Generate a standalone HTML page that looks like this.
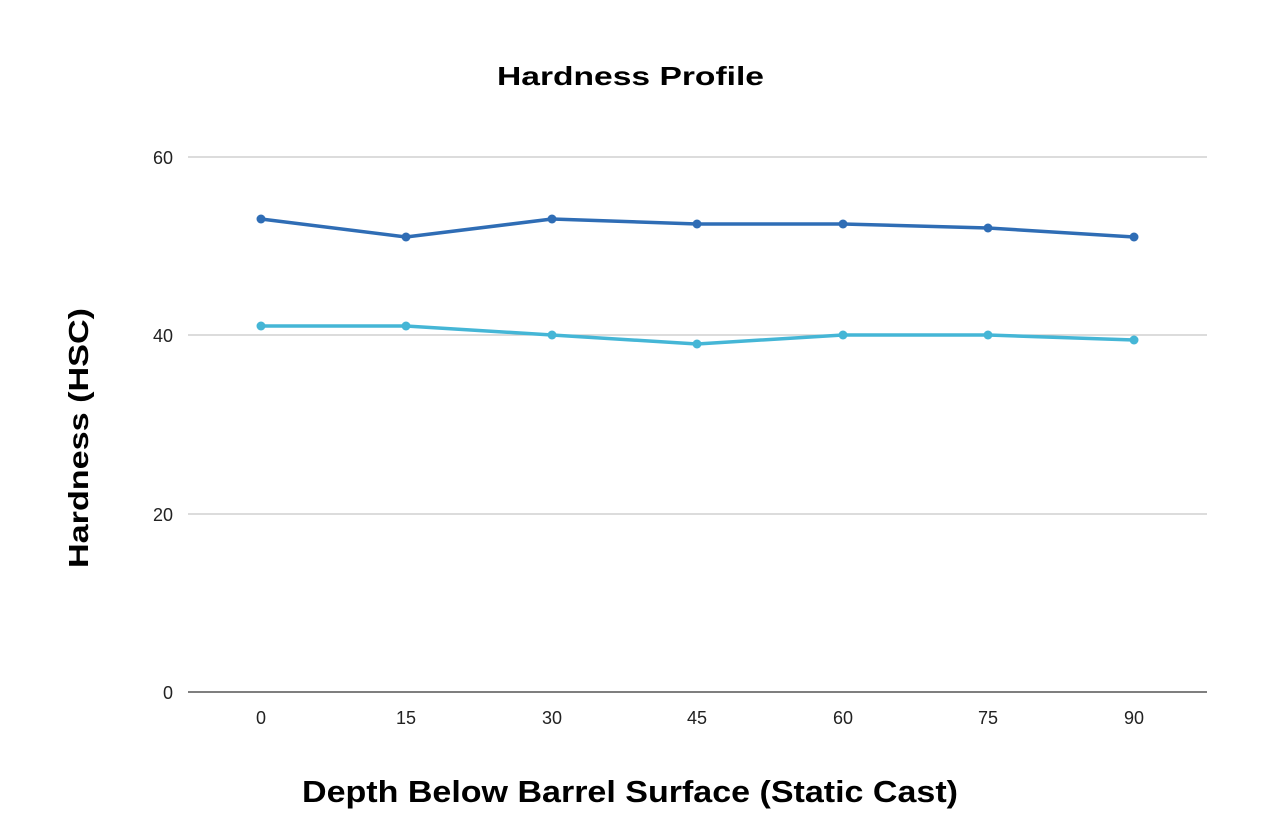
<!DOCTYPE html>
<html><head><meta charset="utf-8"><style>
html,body{margin:0;padding:0;background:#fff;}
svg{display:block;}
text{font-family:"Liberation Sans",sans-serif;}
</style></head><body>
<svg width="1288" height="824" viewBox="0 0 1288 824">
<rect width="1288" height="824" fill="#fff"/>
<text x="497" y="85" font-size="26" font-weight="bold" fill="#000" textLength="267" lengthAdjust="spacingAndGlyphs">Hardness Profile</text>
<g stroke="#c6c6c6" stroke-width="1.3">
<line x1="188" y1="157" x2="1207" y2="157"/>
<line x1="188" y1="335" x2="1207" y2="335"/>
<line x1="188" y1="514" x2="1207" y2="514"/>
</g>
<line x1="188" y1="692" x2="1207" y2="692" stroke="#333" stroke-width="1.3"/>
<g font-size="18" fill="#222" text-anchor="end">
<text x="173" y="164">60</text>
<text x="173" y="342">40</text>
<text x="173" y="521">20</text>
<text x="173" y="699">0</text>
</g>
<g font-size="18" fill="#222" text-anchor="middle">
<text x="261" y="724">0</text>
<text x="406" y="724">15</text>
<text x="552" y="724">30</text>
<text x="697" y="724">45</text>
<text x="843" y="724">60</text>
<text x="988" y="724">75</text>
<text x="1134" y="724">90</text>
</g>
<text x="302" y="802" font-size="31" font-weight="bold" fill="#000" textLength="656" lengthAdjust="spacingAndGlyphs">Depth Below Barrel Surface (Static Cast)</text>
<text transform="translate(88,568) rotate(-90)" font-size="28" font-weight="bold" fill="#000" textLength="260" lengthAdjust="spacingAndGlyphs">Hardness (HSC)</text>
<polyline fill="none" stroke="#2f6db5" stroke-width="3.5" stroke-linejoin="round" points="261,219 406,237 552,219 697,224 843,224 988,228 1134,237"/>
<g fill="#2f6db5">
<circle cx="261" cy="219" r="4.5"/><circle cx="406" cy="237" r="4.5"/><circle cx="552" cy="219" r="4.5"/><circle cx="697" cy="224" r="4.5"/><circle cx="843" cy="224" r="4.5"/><circle cx="988" cy="228" r="4.5"/><circle cx="1134" cy="237" r="4.5"/>
</g>
<polyline fill="none" stroke="#45b6d6" stroke-width="3.5" stroke-linejoin="round" points="261,326 406,326 552,335 697,344 843,335 988,335 1134,340"/>
<g fill="#45b6d6">
<circle cx="261" cy="326" r="4.5"/><circle cx="406" cy="326" r="4.5"/><circle cx="552" cy="335" r="4.5"/><circle cx="697" cy="344" r="4.5"/><circle cx="843" cy="335" r="4.5"/><circle cx="988" cy="335" r="4.5"/><circle cx="1134" cy="340" r="4.5"/>
</g>
</svg>
</body></html>
